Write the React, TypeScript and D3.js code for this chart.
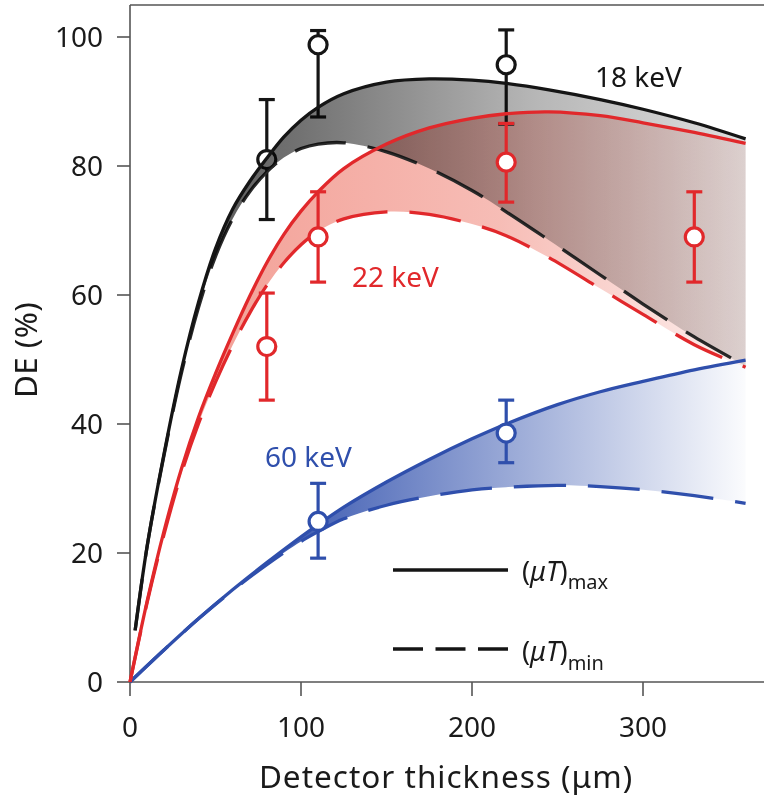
import React from "react";
import * as d3 from "d3";

// ---------- data ----------
const xs18 = [3, 10, 20, 30, 40, 50, 60, 70, 80, 90, 100, 110, 125, 150, 175, 200, 220, 245, 275, 300, 330, 360];
const de18Max = [8, 21, 35.5, 48.3, 58.8, 67.2, 73.3, 77.6, 81.2, 84.5, 87.1, 89.1, 91.2, 93, 93.5, 93.3, 92.8, 91.8, 90.3, 88.8, 86.7, 84.2];
const de18Min = [8, 21, 35.3, 47.8, 58, 66, 71.8, 76, 79.1, 81.3, 82.7, 83.4, 83.6, 82.2, 79.6, 76.2, 72.9, 68.5, 63.1, 58.6, 53.5, 49];

const xs22 = [0, 10, 20, 30, 40, 50, 60, 70, 80, 90, 100, 110, 125, 150, 175, 200, 220, 245, 275, 300, 330, 360];
const de22Max = [0, 12.5, 23.5, 33, 41, 47.8, 54, 59.8, 65, 69.4, 73, 76, 79.6, 83.4, 85.9, 87.4, 88.1, 88.4, 87.8, 86.7, 85.2, 83.5];
const de22Min = [0, 12.3, 23, 32.3, 40, 46.5, 52.2, 57.2, 61.5, 65, 67.8, 69.9, 71.8, 72.9, 72.5, 71, 69.2, 65.8, 61, 57, 52.3, 48.8];

const xs60 = [0, 20, 40, 60, 80, 100, 110, 125, 150, 175, 200, 220, 250, 275, 300, 330, 360];
const de60Max = [0, 5, 9.8, 14.3, 18.5, 22.5, 24.4, 27.1, 31, 34.5, 37.7, 40, 43, 45, 46.6, 48.4, 49.9];
const de60Min = [0, 5, 9.8, 14.2, 18.2, 21.8, 23.3, 25.3, 27.4, 28.8, 29.8, 30.2, 30.5, 30.3, 29.8, 28.9, 27.7];

const measX18 = [80, 110, 220];
const meas18 = [81, 98.8, 95.7];
const lo18 = [71.7, 87.6, 86.5];
const hi18 = [90.3, 101, 101.1];

const measX22 = [80, 110, 220, 330];
const meas22 = [52, 69, 80.6, 69];
const lo22 = [43.7, 62, 74.4, 62];
const hi22 = [60.3, 76, 86.6, 76];

const measX60 = [110, 220];
const meas60 = [24.9, 38.6];
const lo60 = [19.2, 34];
const hi60 = [30.8, 43.7];

const xTicks = [0, 100, 200, 300];
const yTicks = [0, 20, 40, 60, 80, 100];
const seriesLabels = ["18 keV", "22 keV", "60 keV"];
const xLabel = "Detector thickness (μm)";
const yLabel = "DE (%)";

// ---------- layout ----------
const W = 764;
const H = 800;
const x = d3.scaleLinear().domain([0, 100]).range([130, 301]);
const y = d3.scaleLinear().domain([0, 100]).range([682, 37]);
const plotRight = W;
const plotTop = 5;

const BLACK = "#151515";
const RED = "#e1282b";
const BLUE = "#2f4fac";
const AXIS = "#555";
const FONT = "'Noto Sans', sans-serif";

type P = [number, number];
const zipPts = (xs: number[], ys: number[]): P[] => xs.map((v, i) => [v, ys[i]]);

const curve = d3.curveCatmullRom.alpha(0.5);
const line = d3
  .line<P>()
  .x((d) => x(d[0]))
  .y((d) => y(d[1]))
  .curve(curve);

const band = (xs: number[], lo: number[], hi: number[]) =>
  d3
    .area<number>()
    .x((i) => x(xs[i]))
    .y0((i) => y(lo[i]))
    .y1((i) => y(hi[i]))
    .curve(curve)(xs.map((_, i) => i)) || "";

function ErrorBars({ xs, v, lo, hi, color }: { xs: number[]; v: number[]; lo: number[]; hi: number[]; color: string }) {
  return (
    <g stroke={color} strokeWidth={3.2}>
      {xs.map((xv, i) => {
        const cx = x(xv);
        return (
          <g key={i}>
            <line x1={cx} x2={cx} y1={y(lo[i])} y2={y(hi[i])} />
            <line x1={cx - 8} x2={cx + 8} y1={y(lo[i])} y2={y(lo[i])} />
            <line x1={cx - 8} x2={cx + 8} y1={y(hi[i])} y2={y(hi[i])} />
            <circle cx={cx} cy={y(v[i])} r={9} fill="#fff" />
          </g>
        );
      })}
    </g>
  );
}

export default function App() {
  const gx0 = x(0);
  const gx1 = x(360);
  return (
    <svg
      width={W}
      height={H}
      viewBox={`0 0 ${W} ${H}`}
      style={{ position: "absolute", left: 0, top: 0, background: "#fff" }}
      fontFamily={FONT}
    >
      <defs>
        <linearGradient id="gBlack" gradientUnits="userSpaceOnUse" x1={gx0} x2={gx1} y1={0} y2={0}>
          <stop offset="0" stopColor="#4a4a4a" />
          <stop offset="0.276" stopColor="#727272" />
          <stop offset="0.655" stopColor="#b6b6b6" />
          <stop offset="1" stopColor="#dedede" />
        </linearGradient>
        <linearGradient id="gRed" gradientUnits="userSpaceOnUse" x1={gx0} x2={gx1} y1={0} y2={0}>
          <stop offset="0" stopColor="#e63c28" stopOpacity={0.52} />
          <stop offset="0.6" stopColor="#e63c28" stopOpacity={0.34} />
          <stop offset="1" stopColor="#e63c28" stopOpacity={0.08} />
        </linearGradient>
        <linearGradient id="gBlue" gradientUnits="userSpaceOnUse" x1={x(100)} x2={gx1} y1={0} y2={0}>
          <stop offset="0" stopColor={BLUE} stopOpacity={0.9} />
          <stop offset="1" stopColor={BLUE} stopOpacity={0.02} />
        </linearGradient>
      </defs>

      {/* axes frame */}
      <g stroke={AXIS} strokeWidth={1.6} fill="none">
        <line x1={130} x2={130} y1={plotTop} y2={682} />
        <line x1={130} x2={plotRight} y1={plotTop} y2={plotTop} />
        <line x1={130} x2={plotRight} y1={682} y2={682} />
        {yTicks.map((t) => (
          <line key={t} x1={117} x2={130} y1={y(t)} y2={y(t)} />
        ))}
        {xTicks.map((t) => (
          <line key={t} x1={x(t)} x2={x(t)} y1={682} y2={696} />
        ))}
      </g>
      <g fontSize={28} fill="#1a1a1a">
        {yTicks.map((t) => (
          <text key={t} x={103} y={y(t)} dy="0.36em" textAnchor="end">
            {t}
          </text>
        ))}
        {xTicks.map((t) => (
          <text key={t} x={x(t)} y={737} textAnchor="middle">
            {t}
          </text>
        ))}
      </g>
      <text x={446} y={788} fontSize={31.5} textAnchor="middle" fill="#1a1a1a" letterSpacing={1}>
        {xLabel}
      </text>
      <text
        transform={`translate(37, 350) rotate(-90)`}
        fontSize={31.5}
        textAnchor="middle"
        fill="#1a1a1a"
        letterSpacing={0.4}
      >
        {yLabel}
      </text>

      {/* bands */}
      <path d={band(xs60, de60Min, de60Max)} fill="url(#gBlue)" />
      <path d={band(xs22, de22Min, de22Max)} fill="url(#gRed)" />
      <ErrorBars xs={measX18} v={meas18} lo={lo18} hi={hi18} color={BLACK} />
      <path
        d={line(zipPts(xs18, de18Min)) || ""}
        fill="none"
        stroke="#2a2a2a"
        strokeWidth={3.3}
        strokeDasharray="52 22"
      />
      <path d={band(xs18, de18Min, de18Max)} fill="url(#gBlack)" style={{ mixBlendMode: "multiply" }} />

      {/* curves */}
      <g fill="none" strokeWidth={3.3} strokeLinecap="butt">
        <path d={line(zipPts(xs60, de60Min)) || ""} stroke={BLUE} strokeDasharray="52 22" />
        <path d={line(zipPts(xs60, de60Max)) || ""} stroke={BLUE} />
        <path d={line(zipPts(xs22, de22Min)) || ""} stroke={RED} strokeDasharray="52 22" />
        <path d={line(zipPts(xs22, de22Max)) || ""} stroke={RED} />
        <path d={line(zipPts(xs18, de18Max)) || ""} stroke={BLACK} />
      </g>

      <ErrorBars xs={measX22} v={meas22} lo={lo22} hi={hi22} color={RED} />
      <ErrorBars xs={measX60} v={meas60} lo={lo60} hi={hi60} color={BLUE} />

      {/* series labels */}
      <g fontSize={28}>
        <text x={595} y={87} fill={BLACK}>{seriesLabels[0]}</text>
        <text x={352} y={287} fill={RED}>{seriesLabels[1]}</text>
        <text x={265} y={467} fill={BLUE}>{seriesLabels[2]}</text>
      </g>

      {/* legend */}
      <g stroke={BLACK} strokeWidth={3.5}>
        <line x1={393} x2={508} y1={570} y2={570} />
        <line x1={393} x2={508} y1={649} y2={649} strokeDasharray="30 12.5" />
      </g>
      <g fill="#1a1a1a">
        <text x={522} y={581} fontSize={27}>
          (<tspan fontStyle="italic">μT</tspan>)
          <tspan fontSize={20} dy={8}>max</tspan>
        </text>
        <text x={522} y={661} fontSize={27}>
          (<tspan fontStyle="italic">μT</tspan>)
          <tspan fontSize={20} dy={9}>min</tspan>
        </text>
      </g>
    </svg>
  );
}
